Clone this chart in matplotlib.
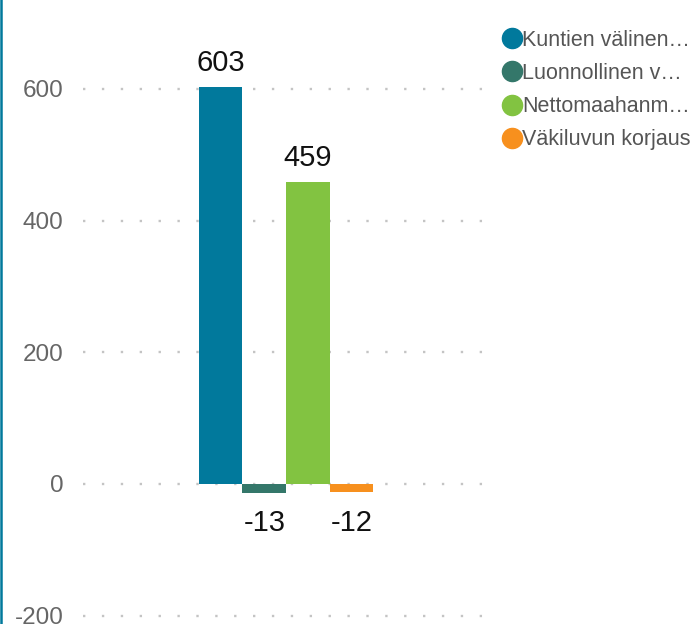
import matplotlib
matplotlib.use("Agg")
import matplotlib.pyplot as plt
from matplotlib.lines import Line2D
import numpy as np

plt.rcParams['font.family'] = ['Liberation Sans', 'DejaVu Sans']

series = ["Kuntien välinen…", "Luonnollinen v…", "Nettomaahanm…", "Väkiluvun korjaus"]
values = [603, -13, 459, -12]
colors = ["#01799c", "#34776a", "#82c341", "#f7901e"]
yticks = [-200, 0, 200, 400, 600]

fig = plt.figure(figsize=(6.94, 6.24), dpi=100)
ax = fig.add_axes([83/694, 0, (495-83)/694, 1])

n = len(values)
bw = 0.106
offsets = (np.arange(n) - (n - 1) / 2) * bw
xc = -0.007
for off, v, c in zip(offsets, values, colors):
    ax.bar(xc + off, v, width=bw, color=c, zorder=3)
    if v >= 0:
        ax.annotate(f"{v}", (xc + off, v), xytext=(0, 7), textcoords="offset points",
                    ha="center", va="bottom", fontsize=21, color="#111111")
    else:
        ax.annotate(f"{v}", (xc + off, v), xytext=(0, -12), textcoords="offset points",
                    ha="center", va="top", fontsize=21, color="#111111")

ax.set_xlim(-0.5, 0.5)
ax.set_ylim(-212.7, 735)
ax.set_yticks(yticks)
ax.set_yticklabels([str(t) for t in yticks], fontsize=17.5, color="#666666")
ax.tick_params(axis='y', length=0, pad=14)
ax.set_xticks([])
for s in ax.spines.values():
    s.set_visible(False)
ax.grid(axis='y', color="#c4c4c4", linestyle=(0, (1, 7)), linewidth=1.7)
ax.set_axisbelow(True)

# left accent line
fig.add_artist(Line2D([0.0015, 0.0015], [0, 1], transform=fig.transFigure, color="#01799c", linewidth=1.8))

handles = [Line2D([], [], marker='o', linestyle='none', markersize=14.5, markerfacecolor=c,
                  markeredgecolor=c) for c in colors]
leg = fig.legend(handles, series, loc="upper left", bbox_to_anchor=(0.7245, 0.952),
                 frameon=False, fontsize=15.5, handletextpad=0.0, labelspacing=0.56,
                 handlelength=0.9, borderaxespad=0, borderpad=0)
for t in leg.get_texts():
    t.set_color("#555555")

fig.savefig("out.png", dpi=100)
